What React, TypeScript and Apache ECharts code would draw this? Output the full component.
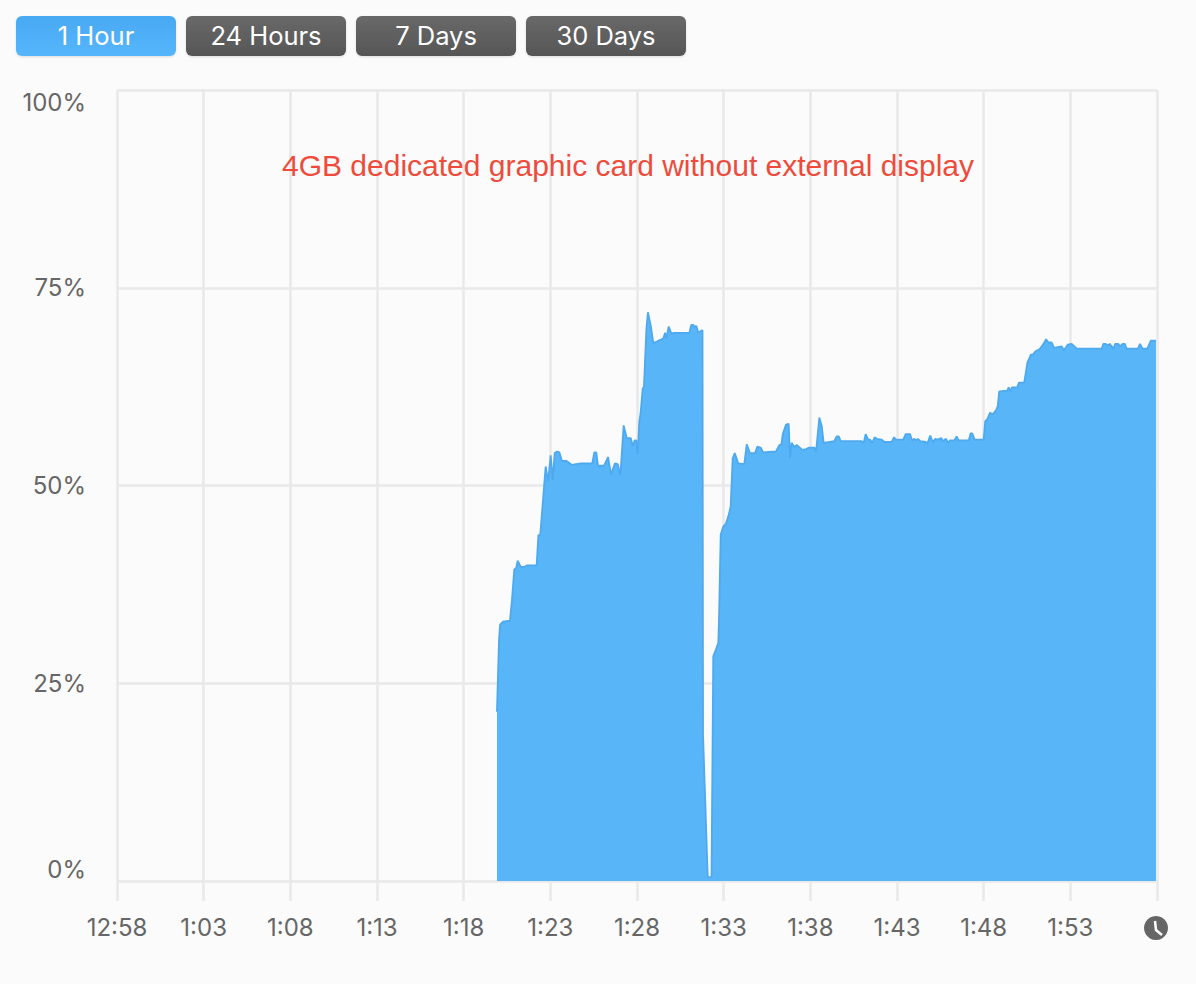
import React, { useEffect, useRef } from "react";
import * as echarts from "echarts";

const rangeButtons = ["1 Hour", "24 Hours", "7 Days", "30 Days"];
const timeTickLabels = ["12:58", "1:03", "1:08", "1:13", "1:18", "1:23", "1:28", "1:33", "1:38", "1:43", "1:48", "1:53", ""];
const percentTicks = [0, 25, 50, 75, 100];
const chartNote = "4GB dedicated graphic card without external display";

// Minutes since 12:58 and the load in percent.
const minutes = [
  21.92, 22.04, 22.1, 22.27, 22.67, 22.79, 22.92, 23.02, 23.12, 23.29, 23.5, 23.64, 24.21, 24.31, 24.42, 24.73, 24.87, 25.02, 25.14, 25.25,
  25.4, 25.52, 25.67, 25.94, 26.25, 26.48, 26.75, 27.42, 27.54, 27.65, 27.75, 28.1, 28.33, 28.5, 28.73, 28.89, 29.04, 29.23, 29.41, 29.64,
  29.75, 29.87, 29.96, 30.04, 30.13, 30.21, 30.33, 30.4, 30.54, 30.63, 30.81, 30.94, 31.14, 31.44, 31.52, 31.62, 31.69, 31.83, 31.98, 32.13,
  33.02, 33.13, 33.25, 33.35, 33.42, 33.54, 33.73, 33.78, 33.81, 34.08, 34.3, 34.4, 34.54, 34.69, 34.73, 34.83, 34.98, 35.13, 35.27, 35.41,
  35.42, 35.52, 35.64, 35.84, 36.19, 36.33, 36.52, 36.81, 36.94, 37.14, 37.27, 38.02, 38.21, 38.33, 38.41, 38.6, 38.75, 38.83, 38.92, 39.06,
  39.23, 39.54, 39.75, 39.94, 40.23, 40.33, 40.52, 40.66, 40.77, 41.38, 41.52, 41.64, 41.75, 42.96, 43.08, 43.19, 43.34, 43.44, 43.57, 43.71,
  43.83, 44.12, 44.27, 44.69, 44.83, 44.94, 45.36, 45.5, 45.75, 45.87, 46.0, 46.1, 46.21, 46.34, 46.66, 46.75, 46.92, 47.06, 47.21, 47.33,
  47.56, 47.64, 47.83, 47.94, 48.06, 48.31, 48.44, 48.56, 49.14, 49.25, 49.34, 49.48, 49.94, 50.0, 50.09, 50.21, 50.37, 50.52, 50.71, 50.81,
  50.9, 51.36, 51.44, 51.54, 51.63, 51.94, 52.04, 52.34, 52.52, 52.71, 52.86, 52.96, 53.25, 53.48, 53.6, 53.73, 53.92, 54.06, 54.5, 54.63,
  54.85, 55.08, 55.37, 56.81, 56.9, 57.04, 57.16, 57.27, 57.48, 57.59, 57.77, 57.87, 58.02, 58.14, 58.25, 58.9, 59.02, 59.17, 59.44, 59.64,
  59.94,
];
const loadPercent = [
  21.4, 30.5, 32.4, 32.8, 32.9, 35.6, 39.4, 39.5, 40.5, 39.7, 39.7, 39.9, 39.9, 43.7, 43.8, 52.4, 50.5, 53.8, 50.7, 54.1,
  54.3, 54.2, 53.1, 53.1, 52.6, 52.7, 52.8, 52.8, 54.2, 54.2, 52.5, 52.5, 53.6, 51.4, 52.8, 52.7, 51.3, 57.6, 56.0, 56.0,
  55.0, 55.7, 55.7, 54.0, 58.0, 59.2, 62.3, 62.4, 69.7, 71.9, 70.0, 68.0, 68.2, 68.5, 68.6, 69.3, 68.6, 70.1, 69.2, 69.3,
  69.3, 70.3, 70.3, 70.0, 70.2, 69.3, 69.6, 69.6, 18.5, 0.5, 0.5, 28.4, 29.2, 30.1, 33.0, 43.8, 44.8, 45.2, 46.1, 47.4,
  48.2, 53.4, 54.1, 52.8, 52.7, 55.2, 54.1, 54.1, 54.9, 54.8, 54.2, 54.3, 55.1, 55.2, 56.5, 57.7, 57.8, 53.5, 55.4, 54.9,
  55.1, 54.5, 54.6, 54.8, 54.8, 54.3, 58.6, 57.5, 55.4, 55.6, 56.2, 56.2, 55.6, 55.6, 55.4, 56.5, 55.8, 55.8, 55.4, 56.1,
  55.9, 55.8, 55.5, 55.5, 56.1, 55.8, 55.8, 56.5, 56.5, 55.7, 55.9, 55.7, 55.9, 55.6, 55.5, 55.3, 56.3, 55.5, 55.9, 55.8,
  56.0, 55.6, 55.9, 55.4, 55.7, 55.7, 56.2, 55.7, 55.7, 56.6, 56.6, 55.8, 55.8, 55.8, 58.1, 58.4, 59.2, 59.0, 59.5, 60.0,
  61.9, 62.0, 62.4, 61.9, 62.4, 62.4, 63.0, 63.0, 65.5, 66.5, 66.6, 66.9, 67.3, 68.0, 68.5, 68.1, 68.1, 67.4, 67.6, 67.1,
  67.8, 67.9, 67.3, 67.3, 67.9, 67.9, 67.7, 67.9, 67.3, 67.9, 67.9, 67.6, 67.9, 67.9, 67.3, 67.3, 67.9, 67.3, 67.3, 68.3,
  68.3,
];

const GRID = "#e9e9e9";
const LABEL = "#666666";
const UI_FONT = "Inter";

function buttonElements() {
  return rangeButtons.flatMap((label, i) => {
    const active = i === 0;
    const x = 16 + i * 170;
    return [
      {
        type: "rect",
        z: 20,
        shape: { x, y: 16, width: 160, height: 40, r: 6 },
        style: {
          fill: new echarts.graphic.LinearGradient(0, 0, 0, 1, active
            ? [{ offset: 0, color: "#49a9f3" }, { offset: 1, color: "#55b6fc" }]
            : [{ offset: 0, color: "#696969" }, { offset: 1, color: "#565656" }]),
          shadowColor: "rgba(0,0,0,0.12)",
          shadowBlur: 2,
          shadowOffsetY: 1,
        },
      },
      {
        type: "text",
        z: 21,
        x: x + 80,
        y: 35,
        style: { text: label, fill: "#ffffff", font: `400 25.5px ${UI_FONT}`, align: "center", verticalAlign: "middle" },
      },
    ];
  });
}

export default function App() {
  const ref = useRef<HTMLDivElement>(null);
  useEffect(() => {
    const chart = echarts.init(ref.current!, null, { renderer: "svg" });
    chart.setOption({
      animation: false,
      backgroundColor: "#fbfbfb",
      grid: { left: 117, right: 39, top: 90, bottom: 103, containLabel: false },
      xAxis: {
        type: "value",
        min: 0,
        max: 60,
        interval: 5,
        axisLine: { show: false },
        axisTick: { show: true, length: 20, lineStyle: { color: GRID, width: 2.5 } },
        splitLine: { show: true, lineStyle: { color: GRID, width: 2.5 } },
        axisLabel: {
          color: LABEL,
          fontFamily: UI_FONT,
          fontSize: 24,
          margin: 34,
          showMinLabel: true,
          showMaxLabel: true,
          formatter: (v: number) => timeTickLabels[Math.round(v / 5)],
        },
      },
      yAxis: {
        type: "value",
        min: percentTicks[0],
        max: percentTicks[percentTicks.length - 1],
        interval: 25,
        axisLine: { show: false },
        axisTick: { show: false },
        splitLine: { show: true, lineStyle: { color: GRID, width: 2.5 } },
        axisLabel: {
          color: LABEL,
          fontFamily: UI_FONT,
          fontSize: 24,
          margin: 31,
          verticalAlignMaxLabel: "top",
          verticalAlignMinLabel: "bottom",
          lineHeight: 24,
          formatter: "{value}%",
        },
      },
      series: [
        {
          type: "line",
          data: minutes.map((m, i) => [m, loadPercent[i]]),
          showSymbol: false,
          symbol: "none",
          smooth: false,
          lineStyle: { color: "#4ea9ee", width: 1.8 },
          areaStyle: { color: "#58b5f7", opacity: 1 },
          z: 3,
        },
      ],
      graphic: [
        ...buttonElements(),
        {
          type: "text",
          z: 20,
          x: 628,
          y: 165,
          style: { text: chartNote, fill: "#ee4b3c", font: "400 30px 'Liberation Sans'", align: "center", verticalAlign: "middle" },
        },
        { type: "circle", z: 20, shape: { cx: 1156, cy: 928, r: 12 }, style: { fill: "#666666" } },
        {
          type: "polyline",
          z: 21,
          shape: { points: [[1155, 921], [1156, 930], [1162, 935]] },
          style: { stroke: "#ffffff", lineWidth: 2.5, fill: "none" },
        },
      ],
    });
    return () => chart.dispose();
  }, []);
  return <div ref={ref} style={{ position: "absolute", left: 0, top: 0, width: 1196, height: 984 }} />;
}
